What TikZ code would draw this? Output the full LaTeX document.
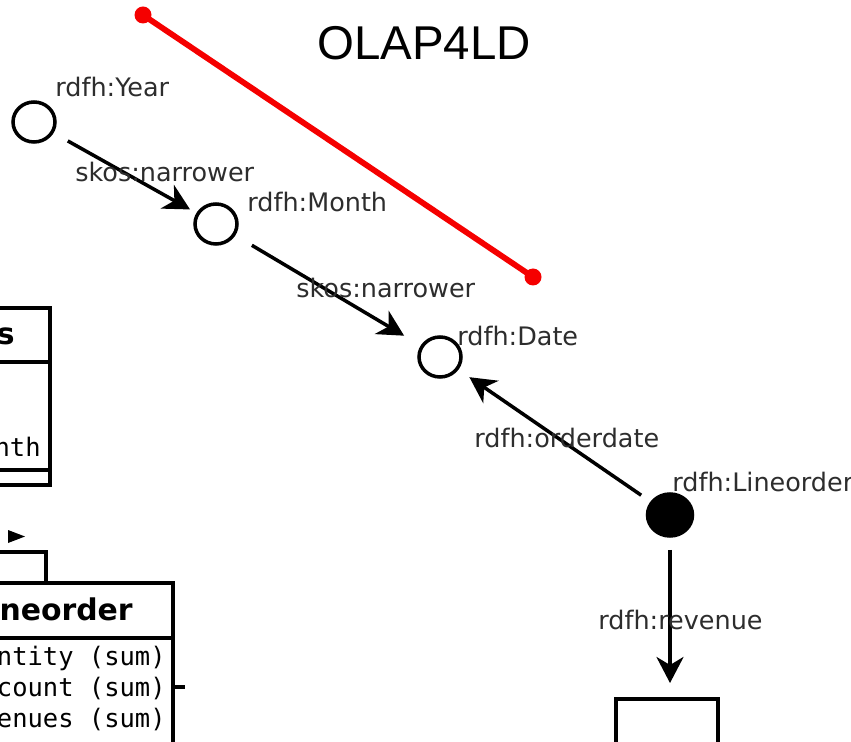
\documentclass[tikz,border=0pt]{standalone}
\usepackage{fontspec}
\setmainfont{DejaVu Sans}
\setmonofont{DejaVu Sans Mono}
\newfontfamily\olapfont{Liberation Sans}
\usetikzlibrary{arrows.meta,shapes.geometric}
\definecolor{lblgray}{RGB}{45,45,45}
\definecolor{olapred}{RGB}{245,0,0}

\begin{document}
\begin{tikzpicture}[x=0.02cm,y=-0.02cm,>={Stealth[length=5.2mm,width=5.4mm,inset=1.6mm]},
  res/.style={ellipse,draw,line width=2pt,minimum width=0.84cm,minimum height=0.80cm,inner sep=0pt,outer sep=0pt},
  lbl/.style={text=lblgray,font=\fontsize{14.5}{16}\selectfont,inner sep=0pt,anchor=base west},
  prop/.style={->,line width=2pt},
  umlline/.style={line width=2pt},
  attr/.style={font=\ttfamily\fontsize{14.5}{16}\selectfont,inner sep=0pt,anchor=base east}]
  \useasboundingbox (0,0) rectangle (851,742);

  % classes of the cube schema (cut at the left)
  \draw[umlline] (-60,308) rectangle (50,485);
  \draw[umlline] (-60,362) -- (50,362);
  \draw[umlline] (-60,470) -- (50,470);
  \node[font=\bfseries\fontsize{17}{20}\selectfont,inner sep=0pt,anchor=base east] (dimhead) at (15,345) {s};
  \node[attr] (dimattr) at (41,457) {nth};
  \fill (8,530) -- (25,536.5) -- (8,543) -- cycle;
  \draw[umlline] (-60,552) rectangle (46,583);
  \draw[umlline] (-60,583) rectangle (173,760);
  \draw[umlline] (-60,638) -- (173,638);
  \draw[umlline] (173,687) -- (185,687);
  \node[font=\bfseries\fontsize{17}{20}\selectfont,inner sep=0pt,anchor=base east] (facthead) at (133,620) {neorder};
  \node[attr] (qty) at (166,665) {ntity (sum)};
  \node[attr] (disc) at (166,696) {count (sum)};
  \node[attr] (rev) at (166,727) {enues (sum)};

  % title and marker line
  \node[font=\olapfont\fontsize{27}{30}\selectfont,inner sep=0pt,anchor=base west] (title) at (317,60) {OLAP4LD};
  \coordinate (redA) at (143,15);
  \coordinate (redB) at (533,277);
  \draw[olapred,line width=3.3pt] (redA) -- (redB);
  \fill[olapred] (redA) circle (0.17cm);
  \fill[olapred] (redB) circle (0.17cm);

  % resources
  \node[res] (year) at (34,122) {};
  \node[res] (month) at (216,224) {};
  \node[res] (date) at (440,357) {};
  \node[res,fill=black,minimum width=0.9cm,minimum height=0.84cm] (lineorder) at (670,515) {};
  \node[draw,line width=2pt,minimum width=2.04cm,minimum height=1.2cm,inner sep=0pt,anchor=north] (value) at (667,697) {};

  \node[lbl] at (55,97) {rdfh:Year};
  \node[lbl] at (247,212) {rdfh:Month};
  \node[lbl] at (457,346) {rdfh:Date};
  \node[lbl] at (672,492) {rdfh:Lineorder};

  % properties
  \draw[prop,shorten <=0.36cm,shorten >=0.18cm] (year) -- (month);
  \draw[prop,shorten <=0.42cm,shorten >=0.42cm] (month) -- (date);
  \draw[prop,shorten <=0.26cm,shorten >=0.3cm] (lineorder) -- (date);
  \draw[prop,shorten <=0.28cm,shorten >=0.28cm] (lineorder) -- (lineorder |- value.north);
  \node[lbl] at (75,182) {skos:narrower};
  \node[lbl] at (296,298) {skos:narrower};
  \node[lbl] at (474,448) {rdfh:orderdate};
  \node[lbl] at (598,629) {rdfh:revenue};
\end{tikzpicture}
\end{document}
